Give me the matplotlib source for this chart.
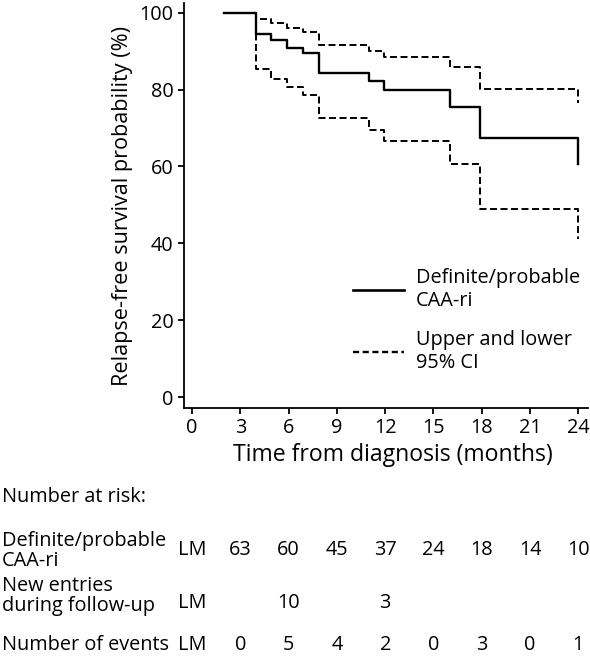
import matplotlib
matplotlib.use("Agg")
import matplotlib.pyplot as plt
import matplotlib.transforms as mtransforms
from matplotlib.lines import Line2D

plt.rcParams["font.family"] = ["Open Sans", "DejaVu Sans"]

# Kaplan-Meier estimate and 95% CI
months = [2, 4, 4.9, 5.9, 6.9, 7.9, 11, 11.9, 16, 17.9, 24]
survival = [100, 94.4, 92.8, 90.8, 89.5, 84.3, 82.1, 80.0, 75.4, 67.4, 60.6]
ci_upper = [100, 98.4, 97.3, 96.0, 95.0, 91.7, 89.9, 88.4, 85.9, 80.2, 76.5]
ci_lower = [100, 85.4, 82.8, 80.6, 78.5, 72.6, 69.5, 66.7, 60.6, 48.9, 41.1]

# Risk table
table_months = [3, 6, 9, 12, 15, 18, 21, 24]
at_risk = ["63", "60", "45", "37", "24", "18", "14", "10"]
new_entries = ["", "10", "", "3", "", "", "", ""]
n_events = ["0", "5", "4", "2", "0", "3", "0", "1"]

fig = plt.figure(figsize=(5.9, 6.56), dpi=100)
ax = fig.add_axes([184 / 590, 1 - 408 / 656, 404 / 590, 405 / 656])

dash = (0, (3.6, 1.8))
ax.step(months, ci_upper, where="post", color="black", lw=1.4, linestyle=dash, zorder=2)
ax.step(months, ci_lower, where="post", color="black", lw=1.4, linestyle=dash, zorder=2)
ax.step(months, survival, where="post", color="black", lw=1.7, zorder=3)

ax.set_xlim(-0.5, 24.6)
ax.set_ylim(-2.8, 102.5)
ax.set_xticks(range(0, 25, 3))
ax.set_yticks(range(0, 101, 20))
ax.spines["top"].set_visible(False)
ax.spines["right"].set_visible(False)
for s in ["left", "bottom"]:
    ax.spines[s].set_linewidth(1.3)
ax.tick_params(direction="out", length=4.5, width=1.3, labelsize=14.3, pad=3)
ax.set_xlabel("Time from diagnosis (months)", fontsize=16.6, labelpad=5)
ax.xaxis.set_label_coords((393 - 184) / 404, -0.09, transform=ax.transAxes)
ax.xaxis.label.set_va("center")
ax.xaxis.set_label_coords((393 - 184) / 404, 1 - (455 - 3) / 405)
ax.set_ylabel("Relapse-free survival probability (%)", fontsize=15.6, labelpad=5)

handles = [Line2D([], [], color="black", lw=1.9),
           Line2D([], [], color="black", lw=1.7, linestyle=(0, (2.6, 1.5)))]
ax.legend(handles, ["Definite/probable\nCAA-ri", "Upper and lower\n95% CI"],
          loc="upper left", bbox_to_anchor=(353 / 590, 1 - 268 / 656),
          bbox_transform=fig.transFigure, frameon=False, fontsize=14.3,
          handlelength=2.55, handletextpad=0.6, borderpad=0, borderaxespad=0,
          labelspacing=0.95)

# risk table below the axes, x follows the month axis
trans = mtransforms.blended_transform_factory(ax.transData, fig.transFigure)
fs = 14.3
fig.text(2 / 590, 1 - 497 / 656, "Number at risk:", fontsize=fs, va="center", ha="left")

rows = [("Definite/probable\nCAA-ri", at_risk, 551, 550),
        ("New entries\nduring follow-up", new_entries, 596, 603),
        ("Number of events", n_events, 645, 645)]
for label, vals, ylab, ynum in rows:
    fig.text(2 / 590, 1 - ylab / 656, label, fontsize=fs, va="center", ha="left",
             linespacing=0.98)
    ax.text(0, 1 - ynum / 656, "LM", transform=trans, fontsize=fs, va="center", ha="center")
    for m, v in zip(table_months, vals):
        ax.text(m, 1 - ynum / 656, v, transform=trans, fontsize=fs, va="center", ha="center")

fig.savefig("out.png", dpi=100)
